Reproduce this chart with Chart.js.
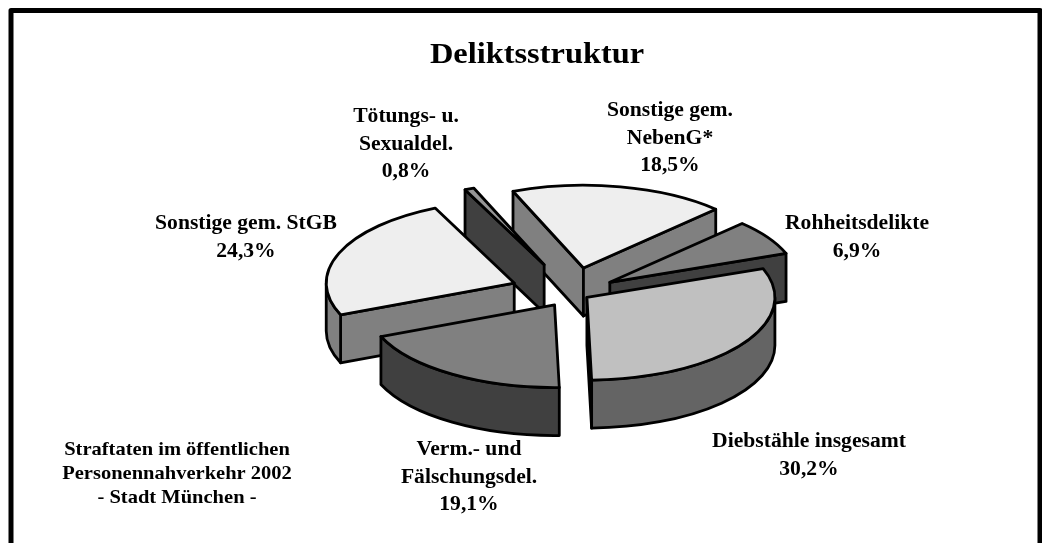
<!DOCTYPE html>
<html>
<head>
<meta charset="utf-8">
<script src="https://cdn.jsdelivr.net/npm/chart.js@4.4.0/dist/chart.umd.min.js"></script>
<style>
    html, body { margin: 0; padding: 0; background: #fff; }
    #wrap { width: 1042px; height: 543px; }
</style>
</head>
<body>
<div id="wrap"><canvas id="pie" width="1042" height="543"></canvas></div>
<script>
// data, clockwise from the top
const categories = ['Sonstige gem. NebenG*', 'Rohheitsdelikte', 'Diebstähle insgesamt', 'Verm.- und Fälschungsdel.', 'Sonstige gem. StGB', 'Tötungs- u. Sexualdel.'];
const shares = [18.5, 6.9, 30.2, 19.1, 24.3, 0.8];
const labelLines = [['Sonstige gem.', 'NebenG*'], ['Rohheitsdelikte'], ['Diebstähle insgesamt'], ['Verm.- und', 'Fälschungsdel.'], ['Sonstige gem. StGB'], ['Tötungs- u.', 'Sexualdel.']];
const chartTitle = 'Deliktsstruktur';
const noteLines = ['Straftaten im öffentlichen', 'Personennahverkehr 2002', '- Stadt München -'];

// look
const topColors = ['#eeeeee', '#808080', '#c0c0c0', '#808080', '#eeeeee', '#969696'];
const sideColors = ['#808080', '#404040', '#646464', '#404040', '#808080', '#404040'];
const explode = [58, 45, 18, 32, 62, 70];
const labelPos = [[670, 111], [857, 224], [809, 442], [469, 450], [246, 224], [406, 117]];
const tilt = 0.44;
const depth = 48;
const serif = '"Liberation Serif", "Times New Roman", serif';
const stretch = 1.08; // the lettering of the original is a bit wide

function drawSlice(ctx, s) {
    const ry = s.r * tilt;
    ctx.fillStyle = sideColors[s.i];

    // cut faces that look towards the viewer
    const faces = [];
    if (Math.cos(s.a0) < 0) faces.push(s.a0);
    if (Math.cos(s.a1) > 0) faces.push(s.a1);
    faces.forEach(a => {
        const ex = s.cx + s.r * Math.cos(a);
        const ey = s.cy + ry * Math.sin(a);
        ctx.beginPath();
        ctx.moveTo(s.cx, s.cy);
        ctx.lineTo(ex, ey);
        ctx.lineTo(ex, ey + depth);
        ctx.lineTo(s.cx, s.cy + depth);
        ctx.closePath();
        ctx.fill();
        ctx.stroke();
    });

    // outer rim, only the front half
    for (let k = -1; k <= 1; k++) {
        const t0 = Math.max(s.a0, 2 * Math.PI * k);
        const t1 = Math.min(s.a1, 2 * Math.PI * k + Math.PI);
        if (t1 <= t0) continue;
        ctx.beginPath();
        ctx.ellipse(s.cx, s.cy, s.r, ry, 0, t0, t1);
        ctx.lineTo(s.cx + s.r * Math.cos(t1), s.cy + ry * Math.sin(t1) + depth);
        ctx.ellipse(s.cx, s.cy + depth, s.r, ry, 0, t1, t0, true);
        ctx.closePath();
        ctx.fill();
        ctx.stroke();
    }

    // top
    ctx.fillStyle = topColors[s.i];
    ctx.beginPath();
    ctx.moveTo(s.cx, s.cy);
    ctx.ellipse(s.cx, s.cy, s.r, ry, 0, s.a0, s.a1);
    ctx.closePath();
    ctx.fill();
    ctx.stroke();
}

function wideText(ctx, text, x, y) {
    ctx.save();
    ctx.translate(x, y);
    ctx.scale(stretch, 1);
    ctx.fillText(text, 0, 0);
    ctx.restore();
}

const pie3d = {
    id: 'pie3d',
    beforeDatasetsDraw() {
        return false; // slices are drawn in 3d below
    },
    afterDraw(chart) {
        const ctx = chart.ctx;
        const arcs = chart.getDatasetMeta(0).data;
        const slices = arcs.map((arc, i) => {
            const p = arc.getProps(['x', 'y', 'startAngle', 'endAngle', 'outerRadius'], true);
            const mid = (p.startAngle + p.endAngle) / 2;
            return {
                i: i, a0: p.startAngle, a1: p.endAngle, r: p.outerRadius, mid: mid,
                cx: p.x + Math.cos(mid) * explode[i],
                cy: p.y + Math.sin(mid) * explode[i] * tilt
            };
        });
        slices.sort((a, b) => Math.sin(a.mid) - Math.sin(b.mid));

        ctx.save();
        ctx.lineWidth = 2.8;
        ctx.strokeStyle = '#000';
        ctx.lineJoin = 'round';
        slices.forEach(s => drawSlice(ctx, s));

        // frame
        ctx.lineWidth = 5;
        ctx.strokeRect(11, 10.5, 1029, 600);

        ctx.fillStyle = '#000';
        ctx.textAlign = 'center';
        ctx.textBaseline = 'middle';
        ctx.font = 'bold 30px ' + serif;
        wideText(ctx, chartTitle, 537, 55);

        ctx.font = 'bold 20px ' + serif;
        labelLines.forEach((lines, i) => {
            const [x, y] = labelPos[i];
            const all = lines.concat([shares[i].toFixed(1).replace('.', ',') + '%']);
            all.forEach((t, j) => wideText(ctx, t, x, y + j * 27.5));
        });

        ctx.font = 'bold 19px ' + serif;
        noteLines.forEach((t, j) => wideText(ctx, t, 177, 450 + j * 24));
        ctx.restore();
    }
};

new Chart(document.getElementById('pie'), {
    type: 'pie',
    data: {
        labels: categories,
        datasets: [{
            data: shares,
            backgroundColor: topColors,
            borderColor: '#000',
            borderWidth: 2
        }]
    },
    options: {
        responsive: false,
        animation: false,
        devicePixelRatio: 1,
        rotation: -22,
        radius: 188,
        layout: { padding: { left: 102, top: 43 } },
        plugins: {
            legend: { display: false },
            tooltip: { enabled: false }
        }
    },
    plugins: [pie3d]
});
</script>
</body>
</html>
